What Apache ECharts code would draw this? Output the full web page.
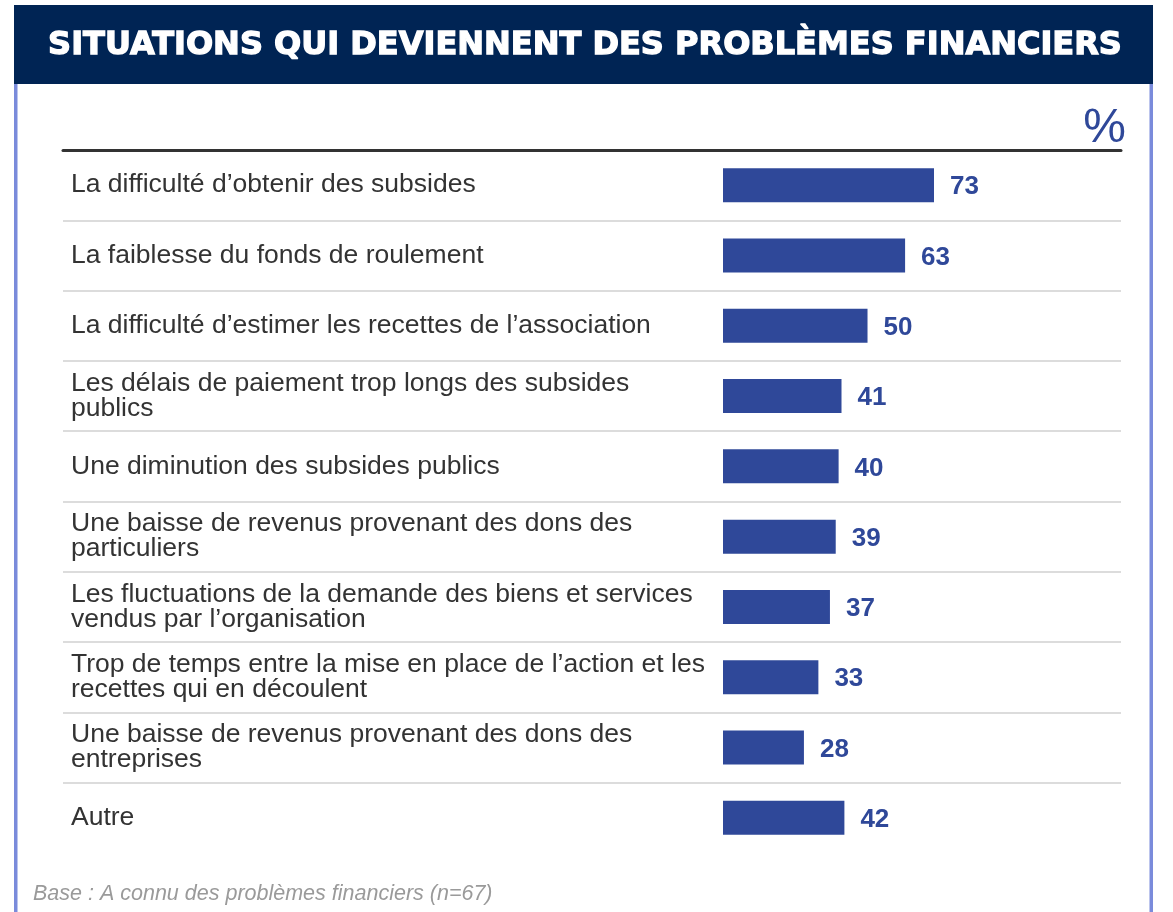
<!DOCTYPE html>
<html><head><meta charset="utf-8">
<script src="https://cdn.jsdelivr.net/npm/echarts@6/dist/echarts.min.js"></script>
<style>html,body{margin:0;padding:0;background:#fff}#c{width:1173px;height:912px}</style>
</head><body><div id="c"></div>
<script>
const titleText = 'SITUATIONS QUI DEVIENNENT DES PROBLÈMES FINANCIERS';
const unitText = '%';
const footnote = 'Base : A connu des problèmes financiers (n=67)';
const categories = [
  'La difficulté d’obtenir des subsides',
  'La faiblesse du fonds de roulement',
  'La difficulté d’estimer les recettes de l’association',
  'Les délais de paiement trop longs des subsides\npublics',
  'Une diminution des subsides publics',
  'Une baisse de revenus provenant des dons des\nparticuliers',
  'Les fluctuations de la demande des biens et services\nvendus par l’organisation',
  'Trop de temps entre la mise en place de l’action et les\nrecettes qui en découlent',
  'Une baisse de revenus provenant des dons des\nentreprises',
  'Autre'
];
const values = [73, 63, 50, 41, 40, 39, 37, 33, 28, 42];

const chart = echarts.init(document.getElementById('c'), null, {renderer: 'canvas'});
const W = 1173, H = 912;
const gridLeft = 63, gridRight = 52, barStart = 723, pxPerUnit = 211 / 73;
const xMin = -(barStart - gridLeft) / pxPerUnit;
const xMax = (W - gridRight - barStart) / pxPerUnit;
const blue = '#2f4899';
const font = '"Liberation Sans", Arial, sans-serif';

chart.setOption({
  animation: false,
  backgroundColor: '#fff',
  graphic: [
    {type: 'rect', shape: {x: 14, y: 5, width: 1139, height: 79}, style: {fill: '#002454'}},
    {type: 'rect', shape: {x: 14, y: 84, width: 3.5, height: 828}, style: {fill: '#7a8bdb'}},
    {type: 'rect', shape: {x: 1149.5, y: 84, width: 3.5, height: 828}, style: {fill: '#7a8bdb'}},
    {type: 'text', x: 585, y: 46, style: {text: titleText, fill: '#fff', font: 'bold 32px "DejaVu Sans", sans-serif', align: 'center', verticalAlign: 'middle', stroke: '#fff', lineWidth: 1.3}},
    {type: 'text', x: 1126, y: 129, style: {text: unitText, fill: blue, font: '48px ' + font, align: 'right', verticalAlign: 'middle'}},
    {type: 'text', x: 33, y: 894, style: {text: footnote, fill: '#9a9a9a', font: 'italic 21.5px ' + font, align: 'left', verticalAlign: 'middle'}}
  ],
  grid: {left: gridLeft, right: gridRight, top: 150, bottom: 59, containLabel: false},
  xAxis: {
    type: 'value', position: 'top', min: xMin, max: xMax,
    axisLine: {show: true, onZero: false, lineStyle: {color: '#333', width: 3}},
    axisTick: {show: false}, axisLabel: {show: false}, splitLine: {show: false}
  },
  yAxis: {
    type: 'category', data: categories, inverse: true,
    axisLine: {show: false}, axisTick: {show: false},
    axisLabel: {
      inside: true, margin: 8, align: 'left',
      color: '#333', fontSize: 26.5, lineHeight: 25, fontFamily: font
    },
    splitLine: {show: true, showMinLine: false, showMaxLine: false, lineStyle: {color: '#d0d0d0', width: 1.5}}
  },
  series: [{
    type: 'bar', data: values, barWidth: 34,
    itemStyle: {color: blue},
    label: {
      show: true, position: 'right', distance: 16, offset: [0, 2],
      color: blue, fontSize: 26, fontWeight: 'bold', fontFamily: font
    }
  }]
});
</script></body></html>
